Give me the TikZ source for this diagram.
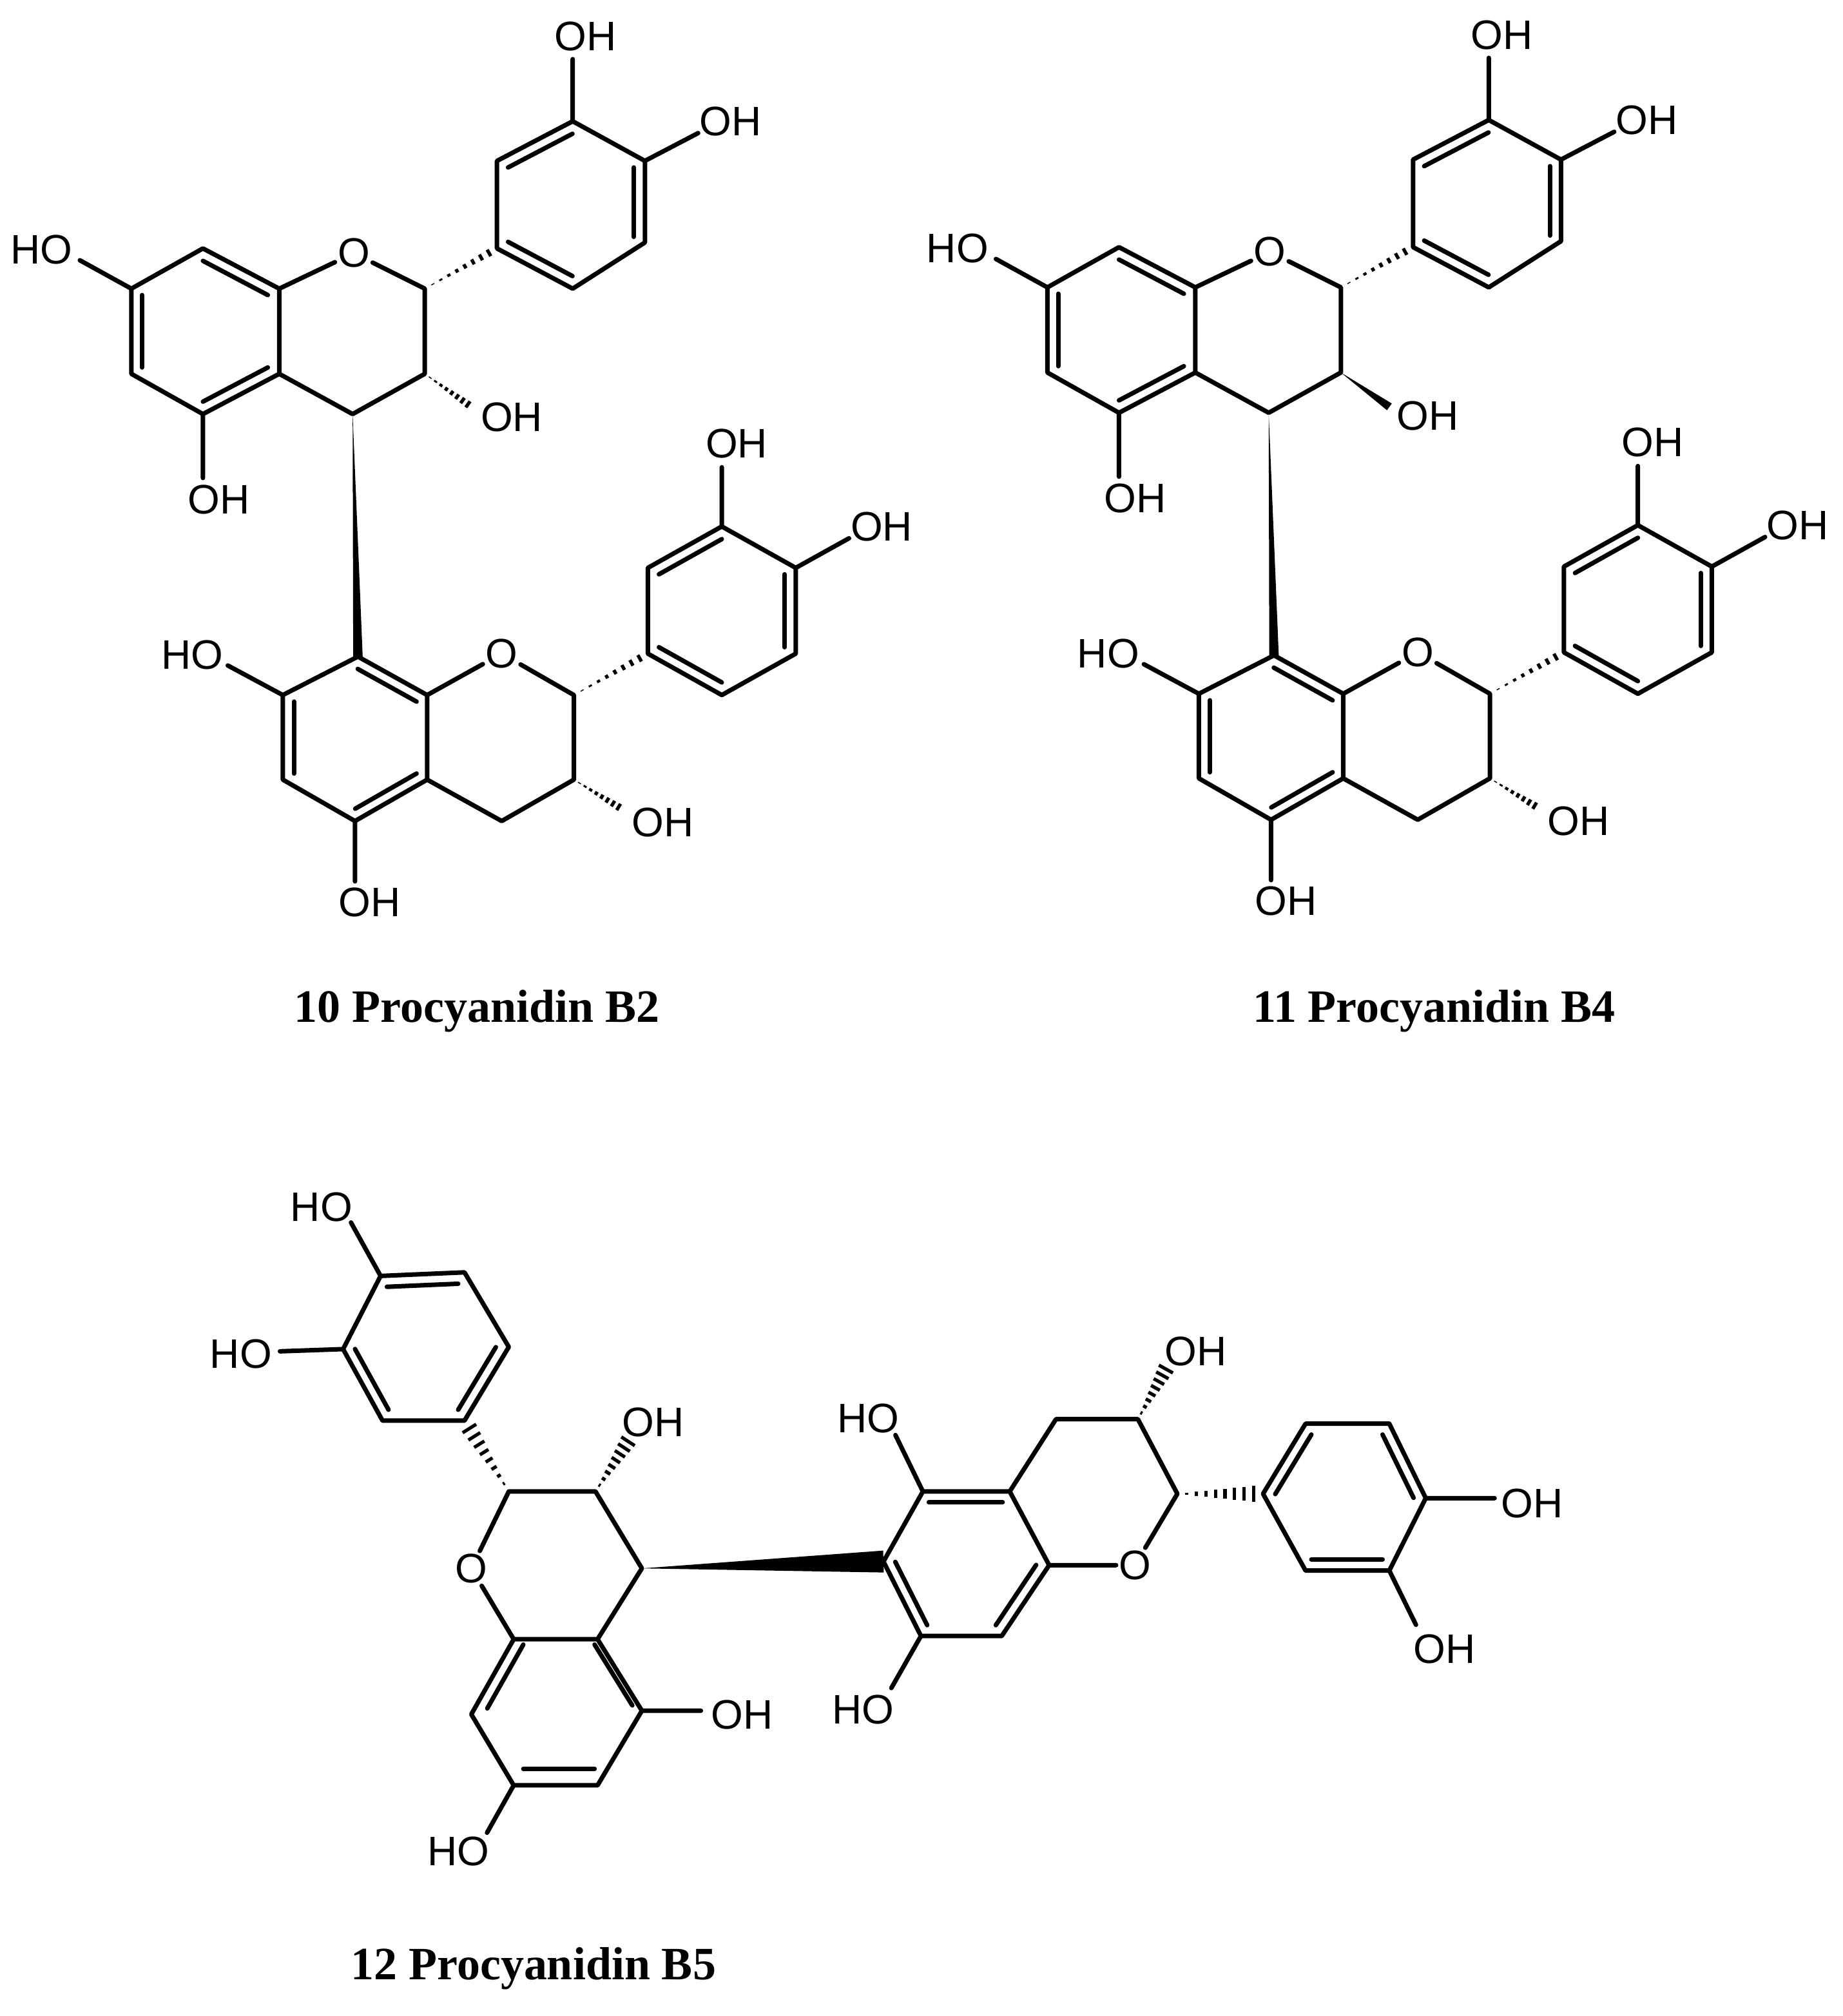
\documentclass[tikz,border=0pt]{standalone}
\usepackage{fontspec}
\setmainfont{Liberation Serif}
\newfontfamily\labfont{Liberation Sans}
\usetikzlibrary{calc}
\tikzset{
  bond/.style={line width=3.5pt,line cap=round,line join=round},
  hashline/.style={line width=2.6pt},
  atom/.style={font=\labfont\fontsize{32}{32}\selectfont,inner sep=2pt},
  lab/.style={font=\labfont\fontsize{32}{32}\selectfont,inner sep=0pt},
  title/.style={font=\bfseries\fontsize{36}{36}\selectfont,inner sep=0pt}
}
\newcommand\hashb[3]{\foreach \i in {1,...,8}{\pgfmathsetmacro\w{(\i/9)*#3}\pgfmathsetmacro\t{\i/9}
  \draw[hashline] ($(#1)!\t!(#2)!\w pt!90:(#2)$) -- ($(#1)!\t!(#2)!\w pt!-90:(#2)$);}}
\newcommand\wedgeb[3]{\fill ($(#2)!#3!90:(#1)$) -- (#1) -- ($(#2)!#3!-90:(#1)$) -- cycle;}
\newcommand\dbl[4]{\draw[bond] ($(#1)!0.15!($(#3)!0.5!(#4)$)$) -- ($(#2)!0.15!($(#3)!0.5!(#4)$)$);}
\newcommand\pcunit[1]{%
  \coordinate (a1) at (343,420); \coordinate (a2) at (222,488); \coordinate (a3) at (222,632);
  \coordinate (a4) at (343,700); \coordinate (a5) at (472,632); \coordinate (a6) at (472,488);
  \node[atom] (o1) at (598,428) {O};
  \coordinate (c2) at (718,488); \coordinate (c3) at (718,632); \coordinate (c4) at (596,700);
  \coordinate (b1) at (840,420); \coordinate (b2) at (840,272); \coordinate (b3) at (968,205);
  \coordinate (b4) at (1090,272); \coordinate (b5) at (1090,410); \coordinate (b6) at (968,488);
  \coordinate (d1) at (605,1110); \coordinate (d2) at (722,1175); \coordinate (d3) at (722,1318);
  \coordinate (d4) at (600,1388); \coordinate (d5) at (478,1318); \coordinate (d6) at (478,1175);
  \node[atom] (o2) at (848,1105) {O};
  \coordinate (e2) at (970,1175); \coordinate (e3) at (970,1318); \coordinate (e4) at (848,1388);
  \coordinate (f1) at (1095,1105); \coordinate (f2) at (1095,960); \coordinate (f3) at (1220,890);
  \coordinate (f4) at (1345,960); \coordinate (f5) at (1345,1105); \coordinate (f6) at (1220,1175);
  \coordinate (xa2) at (135,440); \coordinate (xa4) at (343,808); \coordinate (xb3) at (968,100);
  \coordinate (xb4) at (1180,225); \coordinate (xc3) at (800,690); \coordinate (xd6) at (385,1125);
  \coordinate (xd4) at (600,1490); \coordinate (xf3) at (1220,790); \coordinate (xf4) at (1435,910);
  \coordinate (xe3) at (1055,1370);
  \draw[bond] (a1)--(a2)--(a3)--(a4)--(a5)--(a6)--cycle;
  \draw[bond] (a6)--(o1)--(c2)--(c3)--(c4)--(a5);
  \draw[bond] (b1)--(b2)--(b3)--(b4)--(b5)--(b6)--cycle;
  \draw[bond] (d1)--(d2)--(d3)--(d4)--(d5)--(d6)--cycle;
  \draw[bond] (d2)--(o2)--(e2)--(e3)--(e4)--(d3);
  \draw[bond] (f1)--(f2)--(f3)--(f4)--(f5)--(f6)--cycle;
  \draw[bond] (a2)--(xa2) (a4)--(xa4) (b3)--(xb3) (b4)--(xb4) (d6)--(xd6) (d4)--(xd4) (f3)--(xf3) (f4)--(xf4);
  \dbl{a1}{a6}{a1}{a4}\dbl{a2}{a3}{a1}{a4}\dbl{a4}{a5}{a1}{a4}
  \dbl{b2}{b3}{b1}{b4}\dbl{b4}{b5}{b1}{b4}\dbl{b1}{b6}{b1}{b4}
  \dbl{d1}{d2}{d1}{d4}\dbl{d5}{d6}{d1}{d4}\dbl{d3}{d4}{d1}{d4}
  \dbl{f2}{f3}{f3}{f6}\dbl{f4}{f5}{f3}{f6}\dbl{f1}{f6}{f3}{f6}
  \hashb{c2}{b1}{7}
  #1
  \wedgeb{c4}{d1}{8pt}
  \hashb{e2}{f1}{7}
  \hashb{e3}{xe3}{7}
  \node[lab] (la2) at (70,422) {HO};
  \node[lab] (la4) at (370,845) {OH};
  \node[lab] (lb3) at (990,62) {OH};
  \node[lab] (lb4) at (1235,205) {OH};
  \node[lab] (lc3) at (865,705) {OH};
  \node[lab] (ld6) at (325,1107) {HO};
  \node[lab] (ld4) at (625,1525) {OH};
  \node[lab] (lf3) at (1245,750) {OH};
  \node[lab] (lf4) at (1490,890) {OH};
  \node[lab] (le3) at (1120,1390) {OH};
}
\begin{document}
\begin{tikzpicture}[x=1pt,y=-1pt]
\fill[white] (0,0) rectangle (1430,1565);
\useasboundingbox (0,0) rectangle (1430,1565);
\begin{scope}[scale=0.4592]
\pcunit{\hashb{c3}{xc3}{7}}
\end{scope}
\begin{scope}[shift={(711,-1)},scale=0.4592]
\pcunit{\wedgeb{c3}{xc3}{7pt}}
\end{scope}
\node[title] (t10) at (370,785) {10 Procyanidin B2};
\node[title] (t11) at (1113,785) {11 Procyanidin B4};
\node[title] (t12) at (414,1528) {12 Procyanidin B5};
% structure 12
\coordinate (B1) at (295.4,990.5); \coordinate (B2) at (360.5,987.7); \coordinate (B3) at (394.9,1045.6);
\coordinate (B4) at (360.5,1102.8); \coordinate (B5) at (296.9,1102.8); \coordinate (B6) at (266.3,1047.3);
\coordinate (C2) at (394.9,1157.8); \coordinate (C3) at (462.2,1157.8); \coordinate (C4) at (498.2,1217.5);
\node[atom] (O1) at (365.8,1217.5) {O};
\coordinate (C8a) at (398.7,1272.5); \coordinate (C4a) at (463.8,1272.5); \coordinate (C5) at (498.2,1328);
\coordinate (C6) at (463.8,1385.9); \coordinate (C7) at (398.7,1385.9); \coordinate (C8) at (365.8,1330.8);
\coordinate (D6) at (685.7,1212.2); \coordinate (D5) at (716.3,1157.8); \coordinate (D4a) at (783.7,1157.8);
\coordinate (D8a) at (814.3,1215); \coordinate (D8) at (777.5,1270); \coordinate (D7) at (714.8,1270);
\coordinate (D4) at (819.6,1101.7); \coordinate (D3) at (883.2,1101.7); \coordinate (D2) at (913.8,1159.6);
\node[atom] (O2) at (880.9,1215) {O};
\coordinate (E1) at (980.3,1159.6); \coordinate (E2) at (1013.3,1105.2); \coordinate (E3) at (1078.3,1105.2);
\coordinate (E4) at (1106.6,1163); \coordinate (E5) at (1078.3,1219.2); \coordinate (E6) at (1013.3,1219.2);
\coordinate (XB1) at (272.4,949); \coordinate (XB6) at (217.3,1049); \coordinate (XC3) at (490.6,1114);
\coordinate (XC5) at (544,1328); \coordinate (XC7) at (378,1422.7); \coordinate (XD5) at (695,1114);
\coordinate (XD7) at (691.8,1310.4); \coordinate (XD3) at (907.6,1057.9); \coordinate (XE4) at (1160,1163);
\coordinate (XE5) at (1099,1261.3);
\draw[bond] (B1)--(B2)--(B3)--(B4)--(B5)--(B6)--cycle;
\draw[bond] (C2)--(C3)--(C4)--(C4a)--(C8a)--(O1)--(C2);
\draw[bond] (C8a)--(C8)--(C7)--(C6)--(C5)--(C4a);
\draw[bond] (D6)--(D5)--(D4a)--(D8a)--(D8)--(D7)--cycle;
\draw[bond] (D4a)--(D4)--(D3)--(D2)--(O2)--(D8a);
\draw[bond] (E1)--(E2)--(E3)--(E4)--(E5)--(E6)--cycle;
\draw[bond] (B1)--(XB1) (B6)--(XB6) (C5)--(XC5) (C7)--(XC7) (D5)--(XD5) (D7)--(XD7) (E4)--(XE4) (E5)--(XE5);
\dbl{B1}{B2}{B1}{B4}\dbl{B3}{B4}{B1}{B4}\dbl{B5}{B6}{B1}{B4}
\dbl{C4a}{C5}{C8a}{C5}\dbl{C6}{C7}{C8a}{C5}\dbl{C8}{C8a}{C8a}{C5}
\dbl{D5}{D4a}{D5}{D8}\dbl{D8a}{D8}{D5}{D8}\dbl{D6}{D7}{D5}{D8}
\dbl{E1}{E2}{E1}{E4}\dbl{E3}{E4}{E1}{E4}\dbl{E5}{E6}{E1}{E4}
\hashb{C2}{B4}{7}
\hashb{C3}{XC3}{7}
\hashb{D3}{XD3}{7}
\hashb{D2}{E1}{7}
\wedgeb{C4}{D6}{8.5pt}
\node[lab] (LB1) at (249.5,937) {HO};
\node[lab] (LB6) at (187,1051) {HO};
\node[lab] (LC3) at (507,1104) {OH};
\node[lab] (LC5) at (576,1331) {OH};
\node[lab] (LC7) at (356,1437) {HO};
\node[lab] (LD5) at (674,1101) {HO};
\node[lab] (LD7) at (670,1327) {HO};
\node[lab] (LD3) at (928,1049) {OH};
\node[lab] (LE4) at (1189,1167) {OH};
\node[lab] (LE5) at (1121,1280) {OH};
\end{tikzpicture}
\end{document}
